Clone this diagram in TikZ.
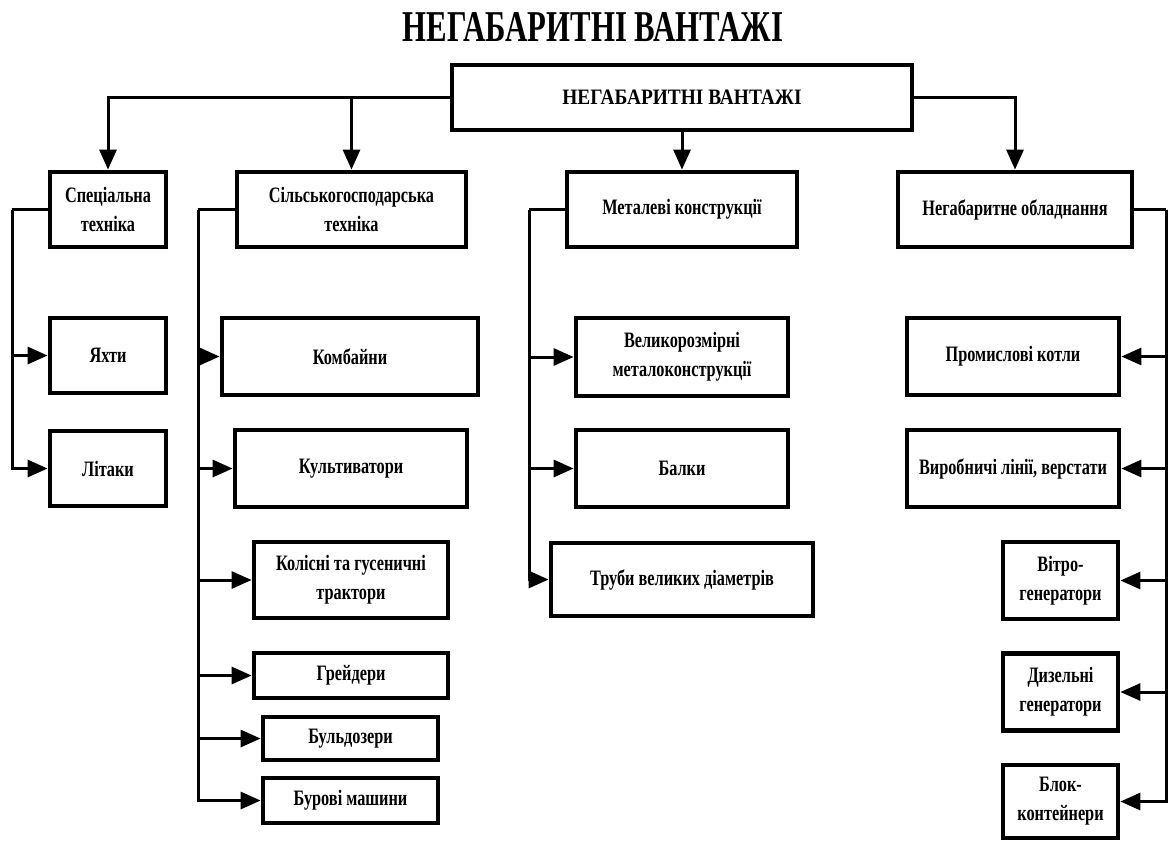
\documentclass[tikz,border=0pt]{standalone}
\usepackage{fontspec}
\setmainfont{Liberation Serif}[FakeStretch=0.74]
\newfontfamily\titlefont{Liberation Serif}[FakeStretch=0.7]
\newfontfamily\rootfont{Liberation Serif}[FakeStretch=0.88]
\usetikzlibrary{arrows.meta}
\tikzset{
    cargoBox/.style={draw=black, line width=2.4pt, fill=white, align=center, inner sep=1pt,
        font=\bfseries\fontsize{11}{14.5}\selectfont},
    linkLine/.style={line width=1.5pt, ->}
}

\begin{document}
\begin{tikzpicture}[x=0.5pt, y=-0.5pt, >={Triangle[length=10pt, width=8.5pt]}]
    \useasboundingbox (0,0) rectangle (1176,841);
    % --- title and root ---
    \node (title) at (593,27) {\titlefont\bfseries\fontsize{22}{26}\selectfont НЕГАБАРИТНІ ВАНТАЖІ};
    \node[cargoBox, minimum width=230pt, minimum height=32.5pt, font=\rootfont\bfseries\fontsize{11}{13}\selectfont] (root) at (682,97.5) {НЕГАБАРИТНІ ВАНТАЖІ};
    % --- first level ---
    \node[cargoBox, minimum width=58pt, minimum height=37.5pt] (spec) at (108,209.5) {Спеціальна\\техніка};
    \node[cargoBox, minimum width=114.5pt, minimum height=37.5pt] (agri) at (351.5,209.5) {Сільськогосподарська\\техніка};
    \node[cargoBox, minimum width=115pt, minimum height=37.5pt] (metal) at (682,209.5) {Металеві конструкції};
    \node[cargoBox, minimum width=117pt, minimum height=37.5pt] (equip) at (1015,209.5) {Негабаритне обладнання};
    \draw[linkLine] (root.west) -| (spec.north);
    \draw[linkLine] (root.west) -| (agri.north);
    \draw[linkLine] (root.south) -- (metal.north);
    \draw[linkLine] (root.east) -| (equip.north);
    % --- special machinery ---
    \node[cargoBox, minimum width=58pt, minimum height=37.5pt] (yachts) at (108,355.5) {Яхти};
    \node[cargoBox, minimum width=58pt, minimum height=37.5pt] (planes) at (108,468.5) {Літаки};
    \coordinate (specSpine) at (12,209.5);
    \draw[line width=1.5pt] (spec.west) -- (specSpine);
    \draw[linkLine] (specSpine) |- (yachts.west);
    \draw[linkLine] (specSpine) |- (planes.west);
    % --- agricultural machinery ---
    \node[cargoBox, minimum width=128pt, minimum height=38.5pt] (combines) at (350,356.5) {Комбайни};
    \node[cargoBox, minimum width=116pt, minimum height=38.5pt] (cultivators) at (351,468.5) {Культиватори};
    \node[cargoBox, minimum width=97pt, minimum height=38pt] (tractors) at (351,580) {Колісні та гусеничні\\трактори};
    \node[cargoBox, minimum width=97pt, minimum height=22.5pt] (graders) at (351,675.5) {Грейдери};
    \node[cargoBox, minimum width=87.5pt, minimum height=21.5pt] (bulldozers) at (350.5,738.5) {Бульдозери};
    \node[cargoBox, minimum width=87.5pt, minimum height=22.5pt] (drills) at (350.5,800.5) {Бурові машини};
    \coordinate (agriSpine) at (198,209.5);
    \draw[line width=1.5pt] (agri.west) -- (agriSpine);
    \foreach \n in {combines, cultivators, tractors, graders, bulldozers, drills}
        \draw[linkLine] (agriSpine) |- (\n.west);
    % --- metal structures ---
    \node[cargoBox, minimum width=106pt, minimum height=39pt] (bigmetal) at (682,357) {Великорозмірні\\металоконструкції};
    \node[cargoBox, minimum width=106pt, minimum height=38.5pt] (beams) at (682,468.5) {Балки};
    \node[cargoBox, minimum width=131pt, minimum height=36.5pt] (pipes) at (682,579.5) {Труби великих діаметрів};
    \coordinate (metalSpine) at (529,209.5);
    \draw[line width=1.5pt] (metal.west) -- (metalSpine);
    \foreach \n in {bigmetal, beams, pipes}
        \draw[linkLine] (metalSpine) |- (\n.west);
    % --- oversized equipment ---
    \node[cargoBox, minimum width=106pt, minimum height=38.5pt] (boilers) at (1013,356.5) {Промислові котли};
    \node[cargoBox, minimum width=106pt, minimum height=38.5pt] (lines) at (1013,468.5) {Виробничі лінії, верстати};
    \node[cargoBox, minimum width=57.5pt, minimum height=38.5pt] (wind) at (1060.5,580.5) {Вітро-\\генератори};
    \node[cargoBox, minimum width=57.5pt, minimum height=38.5pt] (diesel) at (1060.5,692) {Дизельні\\генератори};
    \node[cargoBox, minimum width=57.5pt, minimum height=36.5pt] (containers) at (1060.5,801.5) {Блок-\\контейнери};
    \coordinate (equipSpine) at (1166,209.5);
    \draw[line width=1.5pt] (equip.east) -- (equipSpine);
    \foreach \n in {boilers, lines, wind, diesel, containers}
        \draw[linkLine] (equipSpine) |- (\n.east);
\end{tikzpicture}
\end{document}
